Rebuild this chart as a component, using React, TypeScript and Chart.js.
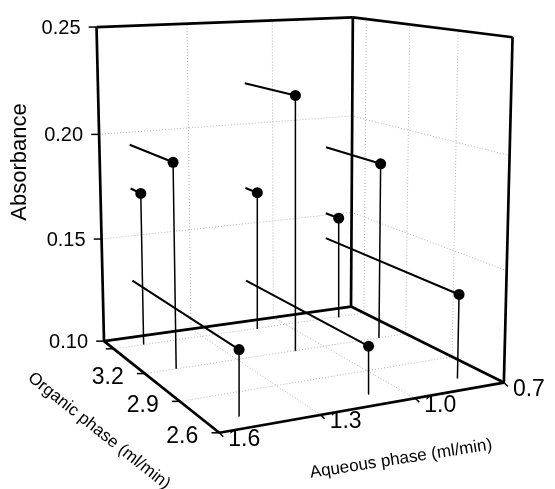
import React, { useEffect, useRef } from "react";
import { Chart, registerables } from "chart.js";
Chart.register(...registerables);

const W = 555;
const H = 489;
const FONT = '"Liberation Sans", Arial, sans-serif';

// axis ranges and ticks
const aqueousRange = [0.7, 1.6];
const organicRange = [2.6, 3.6];
const absorbanceRange = [0.1, 0.25];
const aqueousTicks = [1.6, 1.3, 1.0, 0.7];
const aqueousTickLabels = ["1.6", "1.3", "1.0", "0.7"];
const organicTicks = [2.6, 2.9, 3.2, 3.5];
const organicTickLabels = ["2.6", "2.9", "3.2", ""];
const absorbanceTicks = [0.1, 0.15, 0.2, 0.25];
const absorbanceTickLabels = ["0.10", "0.15", "0.20", "0.25"];

// data: aqueous flow (ml/min) for each column, organic flow (ml/min) for each row
const aqueousFlow = [1.5, 1.1, 0.8];
const organicFlow = [2.7, 3.2, 3.5];
const absorbanceLowOrganic = [0.128, 0.121, 0.138];
const absorbanceMidOrganic = [0.194, 0.22, 0.185];
const absorbanceHighOrganic = [0.173, 0.168, 0.151];

// perspective view transform (normalised box coords -> chart units)
const CAMERA = [
  [344.5621, -95.70985, -13.48305, 218.1265],
  [-10.24213, -18.8578, -392.4254, 437.1252],
  [0.1066683, 0.2180847, -0.04499963, 1.0],
];

function toUVW(aq: number, org: number, ab: number) {
  return [
    (aqueousRange[1] - aq) / (aqueousRange[1] - aqueousRange[0]),
    (org - organicRange[0]) / (organicRange[1] - organicRange[0]),
    (ab - absorbanceRange[0]) / (absorbanceRange[1] - absorbanceRange[0]),
  ];
}
function project(aq: number, org: number, ab: number) {
  const [u, v, w] = toUVW(aq, org, ab);
  const P = CAMERA;
  const d = P[2][0] * u + P[2][1] * v + P[2][2] * w + P[2][3];
  return {
    x: (P[0][0] * u + P[0][1] * v + P[0][2] * w + P[0][3]) / d,
    y: (P[1][0] * u + P[1][1] * v + P[1][2] * w + P[1][3]) / d,
  };
}

function segment(a: number[], b: number[], color: string, width: number, dash: number[], order: number) {
  return {
    data: [project(a[0], a[1], a[2]), project(b[0], b[1], b[2])],
    showLine: true,
    borderColor: color,
    borderWidth: width,
    borderDash: dash,
    pointRadius: 0,
    borderCapStyle: "butt",
    fill: false,
    clip: false,
    order,
  };
}
function tickSeg(p: number[], dx: number, dy: number) {
  const q = project(p[0], p[1], p[2]);
  return {
    data: [q, { x: q.x + dx, y: q.y + dy }],
    showLine: true,
    borderColor: "#000",
    borderWidth: 1.5,
    pointRadius: 0,
    fill: false,
    clip: false,
    order: 2,
  };
}

function buildDatasets() {
  const [aqLo, aqHi] = aqueousRange;
  const [orLo, orHi] = organicRange;
  const [abLo, abHi] = absorbanceRange;
  const ds: any[] = [];
  const grid = "#b4b4b4";
  const gd = [1, 2];
  const innerAq = aqueousTicks.filter((a) => a > aqLo && a < aqHi);
  const innerOrg = organicTicks.filter((o) => o > orLo && o < orHi);
  const innerAb = absorbanceTicks.filter((a) => a > abLo && a < abHi);
  // back-left wall
  for (const aq of innerAq) ds.push(segment([aq, orHi, abLo], [aq, orHi, abHi], grid, 1, gd, 5));
  for (const ab of innerAb) {
    ds.push(segment([aqHi, orHi, ab], [aqLo, orHi, ab], grid, 1, gd, 5));
    ds.push(segment([aqLo, orLo, ab], [aqLo, orHi, ab], grid, 1, gd, 5));
  }
  // back-right wall and floor
  for (const og of innerOrg) {
    ds.push(segment([aqLo, og, abLo], [aqLo, og, abHi], grid, 1, gd, 5));
    ds.push(segment([aqHi, og, abLo], [aqLo, og, abLo], grid, 1, gd, 5));
  }
  for (const aq of innerAq) ds.push(segment([aq, orLo, abLo], [aq, orHi, abLo], grid, 1, gd, 5));
  // box frame
  const k = "#000";
  const bw = 2.7;
  ds.push(segment([aqHi, orHi, abLo], [aqHi, orHi, abHi], k, bw, [], 3));
  ds.push(segment([aqLo, orHi, abLo], [aqLo, orHi, abHi], k, bw, [], 3));
  ds.push(segment([aqLo, orLo, abLo], [aqLo, orLo, abHi], k, bw, [], 3));
  ds.push(segment([aqHi, orHi, abHi], [aqLo, orHi, abHi], k, bw, [], 3));
  ds.push(segment([aqLo, orHi, abHi], [aqLo, orLo, abHi], k, bw, [], 3));
  ds.push(segment([aqHi, orHi, abLo], [aqLo, orHi, abLo], k, bw, [], 3));
  ds.push(segment([aqLo, orHi, abLo], [aqLo, orLo, abLo], k, bw, [], 3));
  ds.push(segment([aqHi, orHi, abLo], [aqHi, orLo, abLo], k, bw, [], 3));
  ds.push(segment([aqHi, orLo, abLo], [aqLo, orLo, abLo], k, bw, [], 3));
  // ticks
  for (const ab of absorbanceTicks) ds.push(tickSeg([aqHi, orHi, ab], -8, 0));
  for (const og of organicTicks) ds.push(tickSeg([aqHi, og, abLo], -8, 0));
  for (const aq of aqueousTicks) ds.push(tickSeg([aq, orLo, abLo], 4, 4));
  // stems, drop lines to the back wall, points
  const rows = [absorbanceLowOrganic, absorbanceMidOrganic, absorbanceHighOrganic];
  const pts: any[] = [];
  organicFlow.forEach((og, r) => {
    aqueousFlow.forEach((aq, c) => {
      const ab = rows[r][c];
      ds.push(segment([aq, og, abLo], [aq, og, ab], k, 1.5, [], 1));
      ds.push(segment([aq, og, ab], [aq, orHi, ab], k, 2, [], 1));
      pts.push(project(aq, og, ab));
    });
  });
  ds.push({ data: pts, showLine: false, pointRadius: 5.5, pointBackgroundColor: "#000", pointBorderWidth: 0, clip: false, order: 0 });
  return ds;
}

const labelPlugin = {
  id: "labels3d",
  afterDatasetsDraw(chart: any) {
    const ctx = chart.ctx;
    const X = (v: number) => chart.scales.x.getPixelForValue(v);
    const Y = (v: number) => chart.scales.y.getPixelForValue(v);
    const [aqLo, aqHi] = aqueousRange;
    const [orLo, orHi] = organicRange;
    const [abLo] = absorbanceRange;
    ctx.save();
    ctx.fillStyle = "#000";
    ctx.font = "20px " + FONT;
    ctx.textAlign = "right";
    ctx.textBaseline = "middle";
    absorbanceTicks.forEach((ab, i) => {
      const p = project(aqHi, orHi, ab);
      ctx.fillText(absorbanceTickLabels[i], X(p.x) - 16, Y(p.y) + 1);
    });
    ctx.font = "23px " + FONT;
    organicTicks.forEach((og, i) => {
      const p = project(aqHi, og, abLo);
      ctx.fillText(organicTickLabels[i], X(p.x) - 21, Y(p.y) + 4);
    });
    ctx.textAlign = "left";
    aqueousTicks.forEach((aq, i) => {
      const p = project(aq, orLo, abLo);
      ctx.fillText(aqueousTickLabels[i], X(p.x) + 9, Y(p.y) + 7);
    });
    // axis titles
    ctx.font = "22px " + FONT;
    ctx.textAlign = "center";
    ctx.textBaseline = "alphabetic";
    ctx.save();
    ctx.translate(26, 162);
    ctx.rotate(-Math.PI / 2);
    ctx.fillText("Absorbance", 0, 0);
    ctx.restore();
    ctx.font = "17px " + FONT;
    ctx.textBaseline = "middle";
    const a0 = project(aqHi, orHi, abLo);
    const a1 = project(aqHi, orLo, abLo);
    ctx.save();
    ctx.translate(99, 431);
    ctx.rotate(Math.atan2(a1.y - a0.y, a1.x - a0.x));
    ctx.fillText("Organic phase (ml/min)", 0, 0);
    ctx.restore();
    const b0 = project(aqHi, orLo, abLo);
    const b1 = project(aqLo, orLo, abLo);
    ctx.save();
    ctx.translate(401, 459);
    ctx.rotate(Math.atan2(b1.y - b0.y, b1.x - b0.x) + 0.02);
    ctx.fillText("Aqueous phase (ml/min)", 0, 0);
    ctx.restore();
    ctx.restore();
  },
};

export default function App() {
  const ref = useRef<HTMLCanvasElement>(null);
  useEffect(() => {
    if (!ref.current) return;
    const chart = new Chart(ref.current, {
      type: "scatter",
      data: { datasets: buildDatasets() as any },
      options: {
        responsive: false,
        maintainAspectRatio: false,
        animation: false,
        devicePixelRatio: 1,
        layout: { padding: 0 },
        events: [],
        scales: {
          x: { type: "linear", min: 0, max: W, display: false },
          y: { type: "linear", min: 0, max: H, reverse: true, display: false },
        },
        plugins: { legend: { display: false }, tooltip: { enabled: false } },
      },
      plugins: [labelPlugin],
    });
    return () => chart.destroy();
  }, []);
  return (
    <div style={{ position: "absolute", left: 0, top: 0, width: W, height: H, background: "#fff" }}>
      <canvas ref={ref} width={W} height={H} style={{ display: "block" }} />
    </div>
  );
}
